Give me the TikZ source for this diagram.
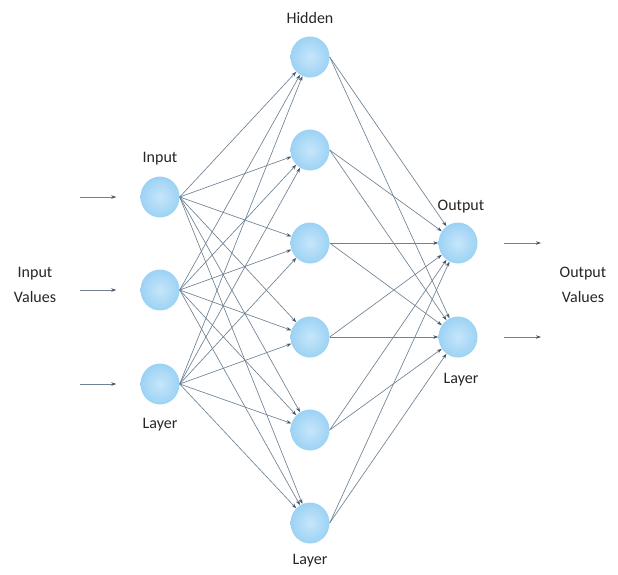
\documentclass[tikz,border=0pt]{standalone}
\usepackage{fontspec}
\setmainfont{Carlito}
\usetikzlibrary{arrows.meta,shapes.geometric}
\definecolor{edgecol}{HTML}{6F8294}
\definecolor{tipcol}{HTML}{45566A}
\definecolor{neuin}{HTML}{C6E6FA}
\definecolor{neuout}{HTML}{9CD2F4}
\definecolor{txtcol}{HTML}{262626}
\tikzset{
  neuron/.style={ellipse, minimum width=39pt, minimum height=41pt, inner sep=0pt,
    inner color=neuin, outer color=neuout},
  link/.style={draw=edgecol, line width=0.65pt,
    -{Stealth[length=5pt,width=3.5pt,color=tipcol]}},
  feed/.style={draw=edgecol, line width=0.8pt,
    -{Stealth[length=5pt,width=3.5pt,color=tipcol]}},
  lbl/.style={font=\fontsize{16}{19}\selectfont, text=txtcol, align=center}
}
\begin{document}
\begin{tikzpicture}[x=1pt,y=-1pt]
\useasboundingbox (0,0) rectangle (618,574);
\fill[white] (0,0) rectangle (618,574);
% input layer
\foreach \n/\y in {1/197,2/290,3/384}
  \node[neuron] (i\n) at (160,\y) {};
% hidden layer
\foreach \n/\y in {1/57,2/150,3/243,4/337,5/430,6/523}
  \node[neuron] (h\n) at (310,\y) {};
% output layer
\foreach \n/\y in {1/243,2/337}
  \node[neuron] (o\n) at (458,\y) {};
% connections
\foreach \a in {1,2,3}
  \foreach \b in {1,...,6}
    \draw[link] (i\a.east) -- (h\b);
\foreach \a in {1,...,6}
  \foreach \b in {1,2}
    \draw[link] (h\a.east) -- (o\b);
% incoming and outgoing values
\foreach \n/\y in {1/197,2/290,3/384}
  \coordinate (s\n) at (80,\y);
\foreach \n in {1,2,3}
  \draw[feed] (s\n) -- ([xshift=-24pt]i\n.west);
\foreach \n/\y in {1/243,2/337}
  \coordinate (t\n) at (541,\y);
\foreach \n in {1,2}
  \draw[feed] ([xshift=26pt]o\n.east) -- (t\n);
% labels
\node[lbl] (lin) at (160,159) {Input};
\node[lbl] (lil) at (160,425) {Layer};
\node[lbl] (lhh) at (310,18) {Hidden};
\node[lbl] (lhl) at (310,561) {Layer};
\node[lbl] (loo) at (461,207) {Output};
\node[lbl] (lol) at (461,380) {Layer};
\node[lbl, font=\fontsize{16}{25}\selectfont] (liv) at (35,285) {Input\\Values};
\node[lbl, font=\fontsize{16}{25}\selectfont] (lov) at (583,285) {Output\\Values};
\end{tikzpicture}
\end{document}
